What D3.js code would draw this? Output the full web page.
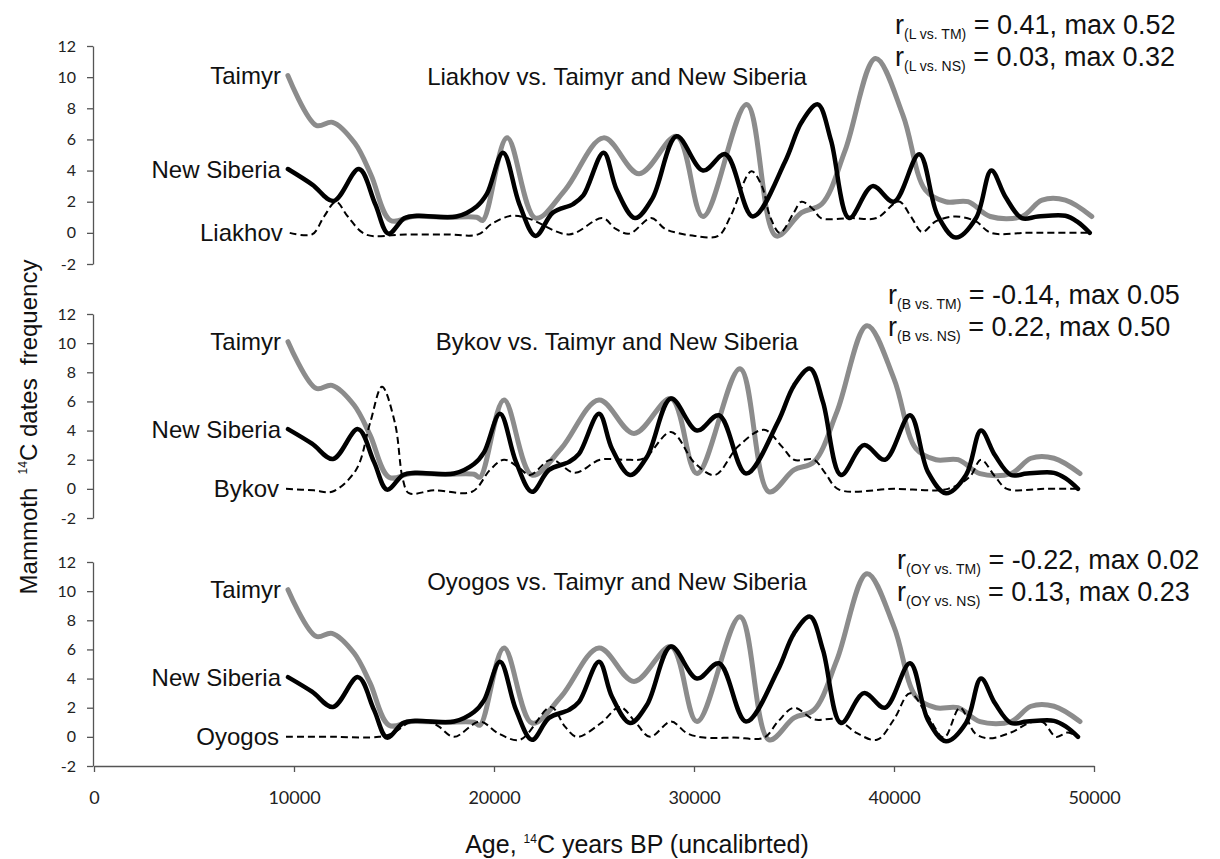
<!DOCTYPE html>
<html>
<head>
<meta charset="utf-8">
<script src="https://cdnjs.cloudflare.com/ajax/libs/d3/7.8.5/d3.min.js"></script>
<style>
  body { margin: 0; background: #fff; }
  .lbl { font-family: "Liberation Sans", Arial, sans-serif; fill: #111; }
  .tick text { font-family: Lato, "Open Sans", sans-serif; fill: #222; }
  .tick line, .domain { stroke: #555; stroke-width: 1.3; }
</style>
</head>
<body>
<div id="chart"></div>
<script>
// Taimyr and New Siberia are the same in all three panels
var taimyrAge = [9700, 11100, 11900, 13000, 13800, 14750, 15850, 17500, 19000, 19300, 20500, 21900, 23350, 25250, 27000, 28850, 30150, 32300, 33750, 35000, 36000, 37150, 38650, 40000, 41100, 42100, 43200, 44300, 45850, 46850, 48000, 49300];
var taimyrVal = [10.1, 6.9, 7.1, 5.75, 3.7, 0.8, 1.05, 1.0, 1.0, 0.8, 6.1, 0.95, 2.75, 6.1, 3.8, 6.2, 1.05, 8.25, -0.2, 1.3, 1.85, 5.3, 11.2, 7.55, 2.75, 2.0, 2.0, 1.05, 1.05, 2.1, 2.1, 1.05];

var nsAge = [9700, 10900, 11950, 13200, 14000, 14650, 15450, 16050, 18000, 19000, 19500, 20300, 21100, 21900, 22750, 23750, 24250, 25250, 25900, 26800, 27650, 28850, 30150, 31250, 32600, 34200, 35000, 35800, 36450, 37350, 38500, 39550, 40800, 41700, 42600, 43600, 44350, 45050, 45850, 46650, 48000, 48600, 49200];
var nsVal = [4.1, 3.1, 2.05, 4.1, 1.85, -0.05, 0.95, 1.1, 1.05, 1.7, 2.5, 5.15, 1.85, -0.2, 1.3, 1.85, 2.4, 5.15, 2.75, 0.95, 2.2, 6.2, 4.0, 5.05, 1.05, 4.6, 7.1, 8.25, 5.95, 0.95, 3.0, 2.0, 5.05, 1.15, -0.3, 0.95, 4.0, 2.3, 0.95, 1.05, 1.1, 0.7, 0.0];

var liakhovAge = [9790, 10890, 11480, 12070, 12650, 13530, 15500, 17500, 19070, 19760, 20740, 21600, 23550, 25200, 25850, 26530, 27590, 28280, 28870, 29750, 30900, 31500, 32530, 33050, 33450, 33940, 34620, 35000, 35590, 35960, 37500, 38700, 39580, 39850, 40440, 40940, 41630, 42600, 43570, 44330, 46000, 47500, 49300];
var liakhovVal = [0, -0.1, 1.05, 2.0, 1.05, -0.1, -0.1, -0.1, -0.1, 0.6, 1.1, 0.9, -0.1, 0.95, 0.25, -0.05, 0.95, 0.25, 0, -0.2, -0.2, 1.05, 3.95, 3.0, 1.05, 0, 1.3, 2.0, 1.5, 0.95, 0.95, 0.95, 1.9, 2.0, 0.95, 0.05, 0.75, 1.05, 0.75, 0, 0, 0, 0];

var bykovAge = [9600, 11000, 11900, 13100, 13800, 14400, 15050, 15450, 15750, 17000, 18900, 19800, 20500, 21200, 21800, 22850, 24050, 25300, 26500, 27500, 28850, 30050, 31050, 32200, 33500, 34400, 35000, 36000, 36550, 37250, 40000, 42700, 43800, 44350, 45050, 45650, 47500, 49200];
var bykovVal = [0, -0.1, -0.2, 1.3, 4.5, 7.0, 4.5, 0.6, -0.3, -0.1, -0.2, 1.3, 2.0, 1.5, 0.95, 2.0, 1.1, 2.0, 2.0, 2.1, 3.9, 1.75, 0.95, 2.9, 4.05, 2.9, 2.0, 2.0, 1.1, -0.05, 0, 0, 0.85, 2.0, 0.85, 0, 0, 0];

var oyogosAge = [9600, 12000, 14250, 15000, 15800, 16800, 17250, 18000, 19300, 20200, 21300, 22850, 23550, 24150, 25350, 26300, 27100, 27800, 28850, 29650, 30500, 32000, 33500, 34200, 35000, 36000, 37150, 38150, 39150, 40000, 40800, 41700, 42500, 43300, 44050, 44750, 45850, 46850, 47450, 48100, 48700, 49200];
var oyogosVal = [0, 0, 0, 0.3, 1.0, 1.0, 0.7, 0.0, 1.05, 0.25, -0.2, 2.05, 0.7, 0.0, 0.95, 2.05, 0.95, 0.0, 1.05, 0.25, -0.05, -0.05, -0.05, 1.05, 2.0, 1.2, 1.2, 0.25, -0.2, 1.2, 3.0, 1.4, -0.05, 2.0, 0.25, -0.1, 0.3, 1.0, 1.0, 0.0, 0.3, 0.0];

var yTicks = [-2, 0, 2, 4, 6, 8, 10, 12];
var xTicks = [0, 10000, 20000, 30000, 40000, 50000];

var panelNames = ["Liakhov", "Bykov", "Oyogos"];
var panelTitles = ["Liakhov vs. Taimyr and New Siberia", "Bykov vs. Taimyr and New Siberia", "Oyogos vs. Taimyr and New Siberia"];
var panelAges = [liakhovAge, bykovAge, oyogosAge];
var panelVals = [liakhovVal, bykovVal, oyogosVal];
var rSubs = [["(L vs. TM)", "(L vs. NS)"], ["(B vs. TM)", "(B vs. NS)"], ["(OY vs. TM)", "(OY vs. NS)"]];
var rTexts = [[" = 0.41, max 0.52", " = 0.03, max 0.32"], [" = -0.14, max 0.05", " = 0.22, max 0.50"], [" = -0.22, max 0.02", " = 0.13, max 0.23"]];

var width = 1220, height = 859;

// layout of the three stacked panels (top panel is a bit taller / wider in the source)
var panels = [
  {top: 46, bottom: 264, xr: [91, 1106], title: 85, rx: 895, ry: 34},
  {top: 314, bottom: 518, xr: [94, 1094], title: 350, rx: 888, ry: 304},
  {top: 562, bottom: 766, xr: [94, 1094], title: 590, rx: 897, ry: 569}
];

var svg = d3.select("#chart").append("svg")
  .attr("width", width)
  .attr("height", height);

var xAxisScale = d3.scaleLinear().domain([0, 50000]).range([94, 1094]);

function zip(a, v) { return a.map(function(d, i) { return [d, v[i]]; }); }

panels.forEach(function(p, i) {
  var x = d3.scaleLinear().domain([0, 50000]).range(p.xr);
  var y = d3.scaleLinear().domain([-2, 12]).range([p.bottom, p.top]);

  svg.append("g")
    .attr("transform", "translate(93,0)")
    .call(d3.axisLeft(y).tickValues(yTicks).tickSizeInner(6).tickSizeOuter(0).tickPadding(11)
      .tickFormat(function(d) { return String(d); }))
    .selectAll("text").style("font-size", "16px");

  var line = d3.line()
    .x(function(d) { return x(d[0]); })
    .y(function(d) { return y(d[1]); })
    .curve(d3.curveCatmullRom.alpha(0.5));

  var series = [
    {name: "Taimyr", data: zip(taimyrAge, taimyrVal), color: "#8c8c8c", w: 5, dash: null},
    {name: "New Siberia", data: zip(nsAge, nsVal), color: "#000", w: 4.5, dash: null},
    {name: panelNames[i], data: zip(panelAges[i], panelVals[i]), color: "#000", w: 2, dash: "7,4"}
  ];

  series.forEach(function(s) {
    svg.append("path")
      .attr("d", line(s.data))
      .attr("fill", "none")
      .attr("stroke", s.color)
      .attr("stroke-width", s.w)
      .attr("stroke-linejoin", "round")
      .attr("stroke-linecap", s.dash ? "butt" : "round")
      .attr("stroke-dasharray", s.dash);

    svg.append("text")
      .attr("class", "lbl")
      .attr("x", x(s.data[0][0]) - 7)
      .attr("y", y(s.data[0][1]))
      .attr("dy", "0.36em")
      .attr("text-anchor", "end")
      .style("font-size", "24px")
      .text(s.name);
  });

  svg.append("text")
    .attr("class", "lbl")
    .attr("x", 617)
    .attr("y", p.title)
    .attr("text-anchor", "middle")
    .style("font-size", "24px")
    .text(panelTitles[i]);

  rSubs[i].forEach(function(sub, k) {
    var t = svg.append("text")
      .attr("class", "lbl")
      .attr("x", p.rx)
      .attr("y", p.ry + k * 32)
      .style("font-size", "27px");
    t.append("tspan").text("r");
    t.append("tspan").attr("dy", 5).style("font-size", "14px").text(sub);
    t.append("tspan").attr("dy", -5).text(rTexts[i][k]);
  });
});

// x axis only under the bottom panel
var xg = svg.append("g")
  .attr("transform", "translate(0,766)")
  .call(d3.axisBottom(xAxisScale).tickValues(xTicks).tickSizeInner(6).tickSizeOuter(0).tickPadding(19).tickFormat(d3.format("d")));
xg.selectAll("text").style("font-size", "18px");

var xt = svg.append("text")
  .attr("class", "lbl")
  .attr("x", 637)
  .attr("y", 853)
  .attr("text-anchor", "middle")
  .style("font-size", "25px");
xt.append("tspan").text("Age, ");
xt.append("tspan").attr("dy", -10).style("font-size", "12px").text("14");
xt.append("tspan").attr("dy", 10).text("C years BP (uncalibrted)");

var yt = svg.append("text")
  .attr("class", "lbl")
  .attr("transform", "translate(37,427) rotate(-90)")
  .attr("text-anchor", "middle")
  .style("font-size", "24px")
  .style("white-space", "pre")
  .attr("xml:space", "preserve");
yt.append("tspan").text("Mammoth  ");
yt.append("tspan").attr("dy", -10).style("font-size", "12px").text("14");
yt.append("tspan").attr("dy", 10).text("C dates  frequency");
</script>
</body>
</html>
